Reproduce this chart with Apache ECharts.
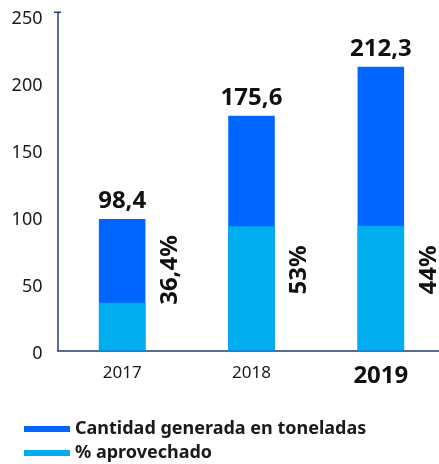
<!DOCTYPE html>
<html>
<head>
<meta charset="utf-8">
<style>
  html, body { margin: 0; padding: 0; background: #ffffff; }
  #chart { width: 439px; height: 464px; }
</style>
<script src="https://cdn.jsdelivr.net/npm/echarts@6/dist/echarts.min.js"></script>
</head>
<body>
<div id="chart"></div>
<script>
// Residuos: cantidad generada (toneladas) y porcentaje aprovechado por año
const years = ['2017', '2018', '2019'];
const generated = [98.4, 175.6, 212.3];
const usedPct = [36.4, 53, 44];
const yTicks = [0, 50, 100, 150, 200, 250];

const FONT = '"Noto Sans", sans-serif';
const DARK_BLUE = '#0066FF';
const LIGHT_BLUE = '#00ADEF';
const AXIS_COLOR = '#1F3F6E';

// tonnes actually used = share of the generated amount
const usedTonnes = generated.map((v, i) => +(v * usedPct[i] / 100).toFixed(2));
const fmt = v => String(v).replace('.', ',');

const chart = echarts.init(document.getElementById('chart'), null, { renderer: 'canvas' });

chart.setOption({
  animation: false,
  textStyle: { fontFamily: FONT },
  // the plot runs slightly past the right edge of the canvas
  grid: {
    left: 57.5, width: 388, top: 12.3, height: 338.3,
    containLabel: false, outerBoundsMode: 'none'
  },
  legend: {
    orient: 'vertical',
    left: 24,
    top: 420,
    height: 60,
    padding: 0,
    itemWidth: 46,
    itemHeight: 6,
    itemGap: 6,
    icon: 'rect',
    textStyle: { fontFamily: FONT, fontSize: 18, fontWeight: 'bold', color: '#1a1a1a' },
    data: ['Cantidad generada en toneladas', '% aprovechado']
  },
  xAxis: {
    type: 'category',
    data: years,
    axisLine: { lineStyle: { color: AXIS_COLOR, width: 1.5 } },
    axisTick: { show: false },
    axisLabel: {
      margin: 14,
      fontFamily: FONT,
      fontSize: 17,
      color: '#1a1a1a',
      formatter: (v, i) => i === years.length - 1 ? '{big|' + v + '}' : v,
      rich: {
        big: { fontFamily: FONT, fontSize: 24, fontWeight: 'bold', color: '#111' }
      }
    }
  },
  yAxis: {
    type: 'value',
    min: yTicks[0],
    max: 253,
    interval: yTicks[1] - yTicks[0],
    splitLine: { show: false },
    axisTick: { show: false },
    axisLine: {
      show: true,
      lineStyle: { color: AXIS_COLOR, width: 1.5 },
      symbol: ['none', 'rect'],
      symbolSize: [7, 1.5]
    },
    axisLabel: {
      showMaxLabel: false,
      margin: 15,
      formatter: v => yTicks.includes(v) ? '{t|' + v + '}' : '',
      rich: {
        t: { fontFamily: FONT, fontSize: 18, color: '#1a1a1a', padding: [6, 0, 0, 0] }
      }
    }
  },
  series: [
    {
      name: 'Cantidad generada en toneladas',
      type: 'bar',
      data: generated,
      barWidth: '36%',
      barGap: '-100%',
      itemStyle: { color: DARK_BLUE },
      label: {
        show: true,
        position: 'top',
        distance: 6,
        formatter: p => fmt(p.value),
        fontFamily: FONT,
        fontSize: 24,
        fontWeight: 'bold',
        color: '#111'
      }
    },
    {
      name: '% aprovechado',
      type: 'bar',
      data: usedTonnes,
      barWidth: '36%',
      barGap: '-100%',
      itemStyle: { color: LIGHT_BLUE },
      label: {
        show: true,
        position: 'insideBottom',
        // offset is measured along the rotated text: [up the axis, to the right]
        offset: [75.6, 48],
        rotate: 90,
        align: 'center',
        verticalAlign: 'middle',
        formatter: p => fmt(usedPct[p.dataIndex]) + '%',
        fontFamily: FONT,
        fontSize: 24,
        fontWeight: 'bold',
        color: '#111'
      }
    }
  ]
});
</script>
</body>
</html>
